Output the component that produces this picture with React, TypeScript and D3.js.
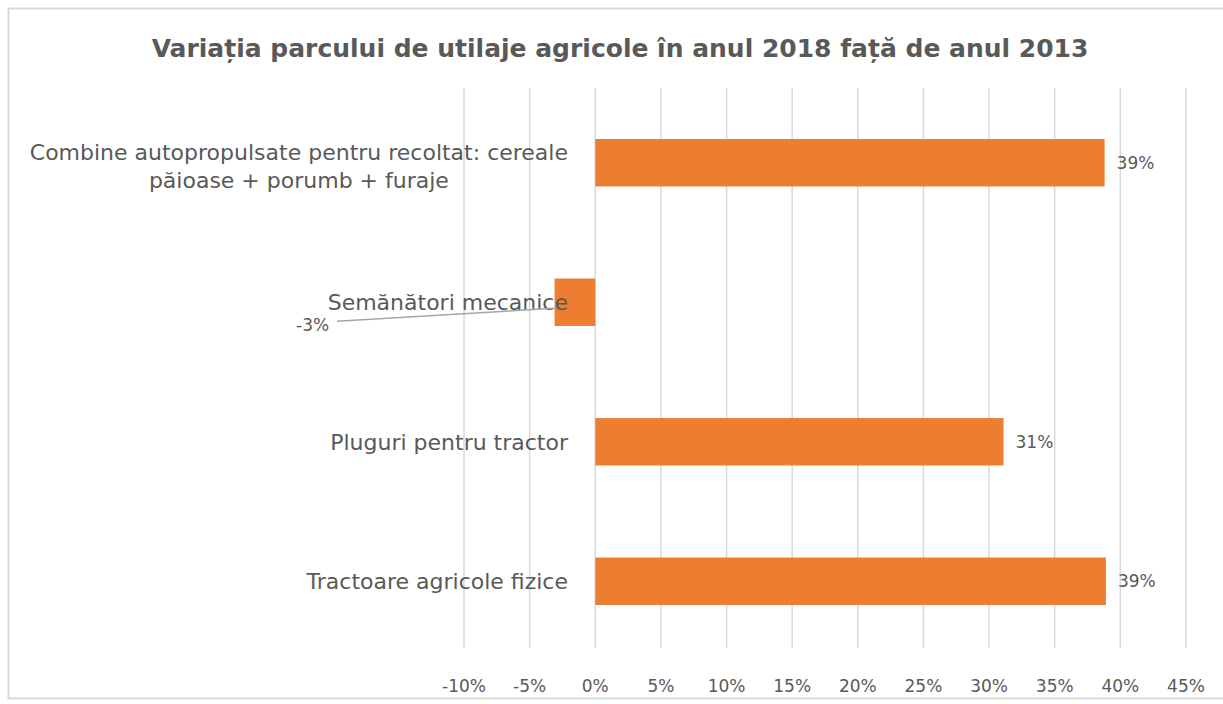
import React, { useEffect, useRef } from 'react';
import * as d3 from 'd3';

const categories = [
  ['Combine autopropulsate pentru recoltat: cereale', 'păioase + porumb + furaje'],
  ['Semănători mecanice'],
  ['Pluguri pentru tractor'],
  ['Tractoare agricole fizice'],
];
const values = [38.8, -3.1, 31.1, 38.9];
const valueLabels = ['39%', '-3%', '31%', '39%'];
const ticks = [-10, -5, 0, 5, 10, 15, 20, 25, 30, 35, 40, 45];
const title = 'Variația parcului de utilaje agricole în anul 2018 față de anul 2013';

const W = 1223;
const H = 704;
const FONT = '"DejaVu Sans", "Noto Sans", sans-serif';
const GREY = '#595959';

const App: React.FC = () => {
  const svgRef = useRef<SVGSVGElement>(null);

  useEffect(() => {
    if (!svgRef.current) return;
    const svg = d3.select(svgRef.current);
    svg.selectAll('*').remove();

    // frame
    svg.append('rect')
      .attr('x', 8.5).attr('y', 8.5)
      .attr('width', W + 10).attr('height', 690)
      .attr('fill', '#fff')
      .attr('stroke', '#d9d9d9')
      .attr('stroke-width', 2);

    svg.append('text')
      .attr('x', 620).attr('y', 57)
      .attr('text-anchor', 'middle')
      .attr('font-family', FONT)
      .attr('font-size', 25)
      .attr('font-weight', 'bold')
      .attr('fill', GREY)
      .text(title);

    const x = d3.scaleLinear().domain([-10, 45]).range([464, 1186]);
    const y = d3.scaleBand<number>()
      .domain(d3.range(categories.length))
      .range([93, 651])
      .paddingInner(0.66)
      .paddingOuter(0.33);

    // gridlines
    svg.append('g').selectAll('line')
      .data(ticks)
      .enter()
      .append('line')
      .attr('x1', d => x(d)).attr('x2', d => x(d))
      .attr('y1', 88).attr('y2', 648)
      .attr('stroke', '#d9d9d9')
      .attr('stroke-width', 1.5);

    // tick labels
    svg.append('g').selectAll('text')
      .data(ticks)
      .enter()
      .append('text')
      .attr('x', d => x(d))
      .attr('y', 692)
      .attr('text-anchor', 'middle')
      .attr('font-family', FONT)
      .attr('font-size', 17)
      .attr('fill', GREY)
      .text(d => `${d}%`);

    // bars
    svg.append('g').selectAll('rect')
      .data(values)
      .enter()
      .append('rect')
      .attr('x', d => x(Math.min(0, d)))
      .attr('y', (d, i) => y(i) || 0)
      .attr('width', d => Math.abs(x(d) - x(0)))
      .attr('height', y.bandwidth())
      .attr('fill', '#ED7D31');

    // category labels
    const labelRight = 568;
    categories.forEach((lines, i) => {
      const cy = (y(i) || 0) + y.bandwidth() / 2;
      const lh = 28;
      const g = svg.append('g');
      const texts = lines.map((line, j) => g.append('text')
        .attr('y', cy + 8 + (j - (lines.length - 1) / 2) * lh + (lines.length > 1 ? 3 : 0))
        .attr('font-family', FONT)
        .attr('font-size', 22)
        .attr('fill', GREY)
        .attr('text-anchor', 'middle')
        .text(line));
      const maxW = d3.max(texts, t => (t.node() as SVGTextElement).getComputedTextLength()) || 0;
      texts.forEach(t => t.attr('x', labelRight - maxW / 2));
    });

    // value labels
    values.forEach((v, i) => {
      const cy = (y(i) || 0) + y.bandwidth() / 2;
      if (v >= 0) {
        svg.append('text')
          .attr('x', x(v) + 12)
          .attr('y', cy + 6)
          .attr('font-family', FONT)
          .attr('font-size', 17)
          .attr('fill', GREY)
          .text(valueLabels[i]);
      } else {
        // label pulled out with a leader line
        const lx = 296;
        const ly = cy + 29;
        svg.append('line')
          .attr('x1', lx + 41).attr('y1', ly - 10)
          .attr('x2', x(v)).attr('y2', cy + 6)
          .attr('stroke', '#a6a6a6')
          .attr('stroke-width', 1.5);
        svg.append('text')
          .attr('x', lx)
          .attr('y', ly)
          .attr('font-family', FONT)
          .attr('font-size', 17)
          .attr('fill', GREY)
          .text(valueLabels[i]);
      }
    });
  }, []);

  return (
    <svg
      ref={svgRef}
      width={W}
      height={H}
      style={{ position: 'fixed', left: 0, top: 0, background: '#fff' }}
    />
  );
};

export default App;
